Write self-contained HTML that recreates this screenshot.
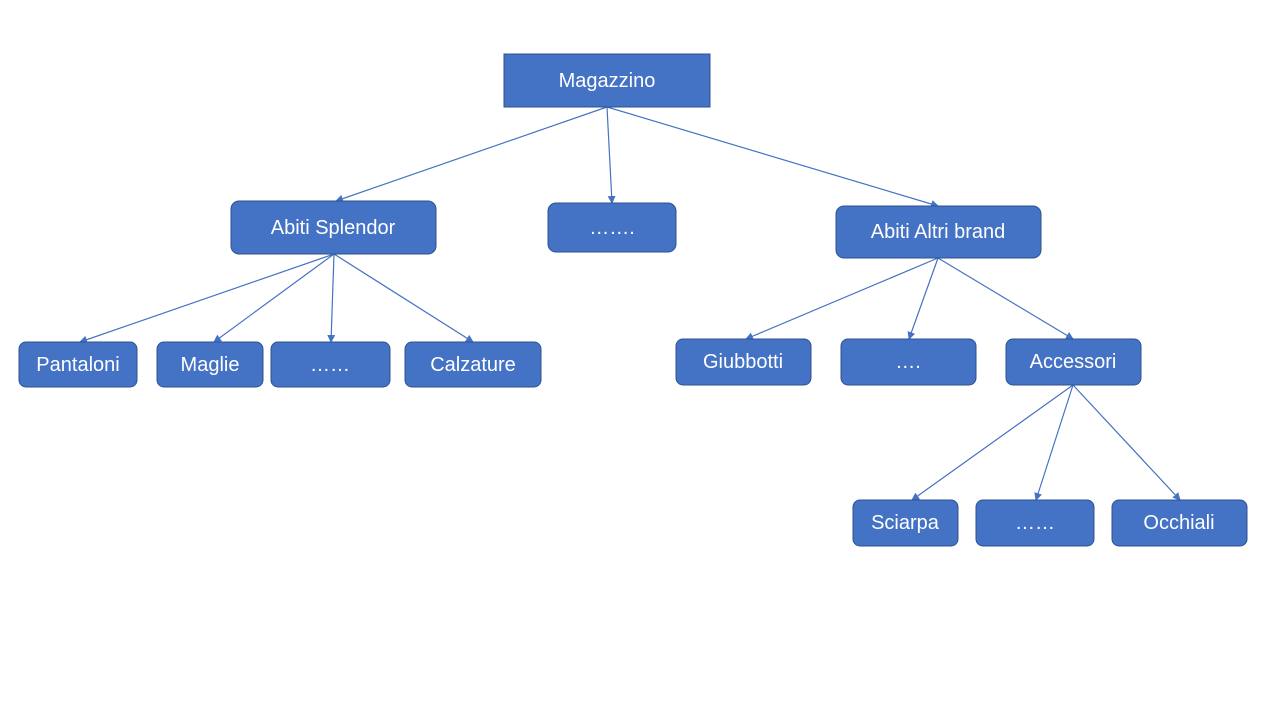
<!DOCTYPE html>
<html><head><meta charset="utf-8"><style>
html,body{margin:0;padding:0;background:#fff;width:1280px;height:720px;overflow:hidden}
text{font-family:"Liberation Sans",sans-serif;font-size:20px;fill:#fff;text-anchor:middle;dominant-baseline:central}
</style></head><body>
<svg width="1280" height="720" xmlns="http://www.w3.org/2000/svg">
<defs><marker id="a" markerWidth="8" markerHeight="8" refX="7" refY="4" orient="auto" markerUnits="userSpaceOnUse"><path d="M0,0 L8,4 L0,8 z" fill="#4472C4"/></marker></defs>
<g stroke="#4472C4" stroke-width="1.2" marker-end="url(#a)">
<line x1="607" y1="107" x2="336" y2="201"/>
<line x1="607" y1="107" x2="612" y2="203"/>
<line x1="607" y1="107" x2="938" y2="206"/>
<line x1="334" y1="254" x2="80" y2="342"/>
<line x1="334" y1="254" x2="214" y2="342"/>
<line x1="334" y1="254" x2="331" y2="342"/>
<line x1="334" y1="254" x2="473" y2="342"/>
<line x1="938" y1="258" x2="746" y2="339"/>
<line x1="938" y1="258" x2="909" y2="339"/>
<line x1="938" y1="258" x2="1073" y2="339"/>
<line x1="1073" y1="385" x2="912" y2="500"/>
<line x1="1073" y1="385" x2="1036" y2="500"/>
<line x1="1073" y1="385" x2="1180" y2="500"/>
</g>
<g fill="#4472C4" stroke="#2F528F" stroke-width="1">
<rect x="504" y="54" width="206" height="53"/>
<rect x="231" y="201" width="205" height="53" rx="8"/>
<rect x="548" y="203" width="128" height="49" rx="8"/>
<rect x="836" y="206" width="205" height="52" rx="8"/>
<rect x="19" y="342" width="118" height="45" rx="7"/>
<rect x="157" y="342" width="106" height="45" rx="7"/>
<rect x="271" y="342" width="119" height="45" rx="7"/>
<rect x="405" y="342" width="136" height="45" rx="7"/>
<rect x="676" y="339" width="135" height="46" rx="7"/>
<rect x="841" y="339" width="135" height="46" rx="7"/>
<rect x="1006" y="339" width="135" height="46" rx="7"/>
<rect x="853" y="500" width="105" height="46" rx="7"/>
<rect x="976" y="500" width="118" height="46" rx="7"/>
<rect x="1112" y="500" width="135" height="46" rx="7"/>
</g>
<text x="607" y="81">Magazzino</text>
<text x="333" y="228">Abiti Splendor</text>
<text x="612" y="228">…….</text>
<text x="938" y="232">Abiti Altri brand</text>
<text x="78" y="365">Pantaloni</text>
<text x="210" y="365">Maglie</text>
<text x="330" y="365">……</text>
<text x="473" y="365">Calzature</text>
<text x="743" y="362">Giubbotti</text>
<text x="908" y="362">….</text>
<text x="1073" y="362">Accessori</text>
<text x="905" y="523">Sciarpa</text>
<text x="1035" y="523">……</text>
<text x="1179" y="523">Occhiali</text>
</svg>
</body></html>
